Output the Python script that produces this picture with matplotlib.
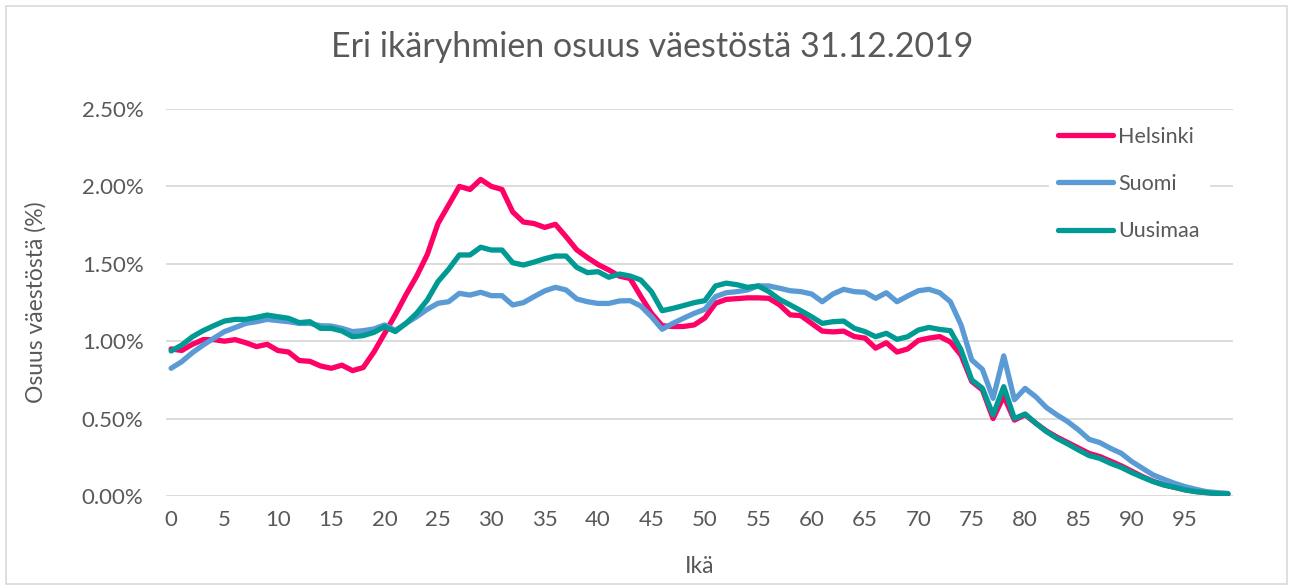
import matplotlib.pyplot as plt
from matplotlib.ticker import FuncFormatter
from matplotlib.patches import Rectangle

# ika 0-99, osuus vaestosta (%)
ages = list(range(100))

helsinki = [0.95, 0.94, 0.98, 1.01, 1.01, 1.00, 1.01, 0.99, 0.965, 0.98,
            0.94, 0.93, 0.875, 0.87, 0.84, 0.825, 0.845, 0.81, 0.83, 0.93,
            1.05, 1.17, 1.30, 1.42, 1.56, 1.76, 1.88, 2.00, 1.98, 2.045,
            2.00, 1.98, 1.835, 1.77, 1.76, 1.735, 1.755, 1.675, 1.59, 1.54,
            1.495, 1.46, 1.42, 1.405, 1.29, 1.18, 1.10, 1.095, 1.095, 1.105,
            1.15, 1.245, 1.27, 1.275, 1.28, 1.28, 1.277, 1.235, 1.17, 1.165,
            1.115, 1.065, 1.06, 1.065, 1.03, 1.02, 0.955, 0.99, 0.93, 0.95,
            1.005, 1.02, 1.03, 0.995, 0.91, 0.74, 0.685, 0.50, 0.645, 0.49,
            0.525, 0.47, 0.42, 0.38, 0.345, 0.31, 0.275, 0.255, 0.225, 0.195,
            0.16, 0.125, 0.095, 0.072, 0.056, 0.04, 0.029, 0.022, 0.016, 0.014]

suomi = [0.825, 0.868, 0.926, 0.975, 1.019, 1.062, 1.088, 1.115, 1.126, 1.141,
         1.133, 1.126, 1.115, 1.115, 1.10, 1.098, 1.083, 1.062, 1.068, 1.079,
         1.105, 1.07, 1.115, 1.158, 1.206, 1.245, 1.255, 1.309, 1.298, 1.316,
         1.294, 1.294, 1.234, 1.249, 1.288, 1.325, 1.348, 1.331, 1.273, 1.255,
         1.244, 1.244, 1.26, 1.262, 1.227, 1.158, 1.077, 1.115, 1.148, 1.18,
         1.206, 1.288, 1.313, 1.32, 1.331, 1.357, 1.357, 1.342, 1.326, 1.32,
         1.305, 1.255, 1.305, 1.335, 1.32, 1.316, 1.277, 1.313, 1.255, 1.292,
         1.326, 1.335, 1.313, 1.255, 1.105, 0.879, 0.818, 0.631, 0.905, 0.622,
         0.695, 0.641, 0.571, 0.523, 0.48, 0.427, 0.366, 0.345, 0.308, 0.276,
         0.222, 0.179, 0.136, 0.108, 0.082, 0.06, 0.043, 0.028, 0.022, 0.017]

uusimaa = [0.937, 0.975, 1.029, 1.068, 1.10, 1.13, 1.141, 1.141, 1.154, 1.169,
           1.158, 1.148, 1.12, 1.126, 1.083, 1.083, 1.066, 1.029, 1.036, 1.057,
           1.094, 1.062, 1.115, 1.18, 1.266, 1.385, 1.465, 1.557, 1.557, 1.607,
           1.589, 1.589, 1.507, 1.492, 1.511, 1.533, 1.55, 1.55, 1.477, 1.443,
           1.449, 1.413, 1.434, 1.421, 1.395, 1.32, 1.197, 1.212, 1.23, 1.249,
           1.262, 1.357, 1.375, 1.365, 1.348, 1.357, 1.32, 1.27, 1.234, 1.197,
           1.158, 1.115, 1.126, 1.13, 1.083, 1.062, 1.029, 1.051, 1.012, 1.029,
           1.072, 1.089, 1.076, 1.068, 0.944, 0.75, 0.696, 0.524, 0.706, 0.50,
           0.53, 0.47, 0.416, 0.372, 0.336, 0.297, 0.261, 0.243, 0.211, 0.185,
           0.151, 0.121, 0.093, 0.071, 0.056, 0.039, 0.028, 0.022, 0.015, 0.013]

grey = '#595959'
plt.rcParams['font.family'] = ['Lato', 'DejaVu Sans']

fig = plt.figure(figsize=(12.93, 5.86), dpi=100)
ax = fig.add_axes([0.1282, 0.1536, 0.8256, 0.6604])

# kehys kuvan ympari
fig.patches.append(Rectangle((0.0045, 0.004), 0.991, 0.986, transform=fig.transFigure,
                             fill=False, edgecolor='#D9D9D9', linewidth=1.2))

ax.plot(ages, helsinki, color='#FF0066', linewidth=3.8, solid_joinstyle='round',
        solid_capstyle='round', label='Helsinki')
ax.plot(ages, suomi, color='#5B9BD5', linewidth=3.8, solid_joinstyle='round',
        solid_capstyle='round', label='Suomi')
ax.plot(ages, uusimaa, color='#009A94', linewidth=3.8, solid_joinstyle='round',
        solid_capstyle='round', label='Uusimaa')

ax.set_xlim(-0.5, 99.5)
ax.set_ylim(0, 2.5)
ax.set_xticks(range(0, 100, 5))
ax.set_yticks([0, 0.5, 1.0, 1.5, 2.0, 2.5])
ax.yaxis.set_major_formatter(FuncFormatter(lambda v, p: '%.2f%%' % v))
ax.grid(axis='y', color='#D9D9D9', linewidth=1.3)
ax.set_axisbelow(True)
for s in ax.spines.values():
    s.set_visible(False)
ax.tick_params(length=0, labelsize=16, labelcolor=grey)
ax.tick_params(axis='x', pad=10)
ax.tick_params(axis='y', pad=16)

ax.set_xlabel('Ikä', fontsize=16.5, color=grey, labelpad=19)
ax.set_ylabel('Osuus väestöstä (%)', fontsize=16.5, color=grey, labelpad=25)
fig.text(0.5046, 0.92, 'Eri ikäryhmien osuus väestöstä 31.12.2019', ha='center', va='center',
         fontsize=24.5, color=grey)

leg = ax.legend(loc='upper left', bbox_to_anchor=(0.8277, 0.976), borderaxespad=0,
                frameon=True, fontsize=15.5, handlelength=2.56, labelspacing=1.26,
                handletextpad=0.25, borderpad=0.4)
leg.get_frame().set_facecolor('white')
leg.get_frame().set_edgecolor('white')
leg.get_frame().set_alpha(1)
leg.get_frame().set_boxstyle('square', pad=0)
for t in leg.get_texts():
    t.set_color(grey)

plt.savefig('out.png', dpi=100)
